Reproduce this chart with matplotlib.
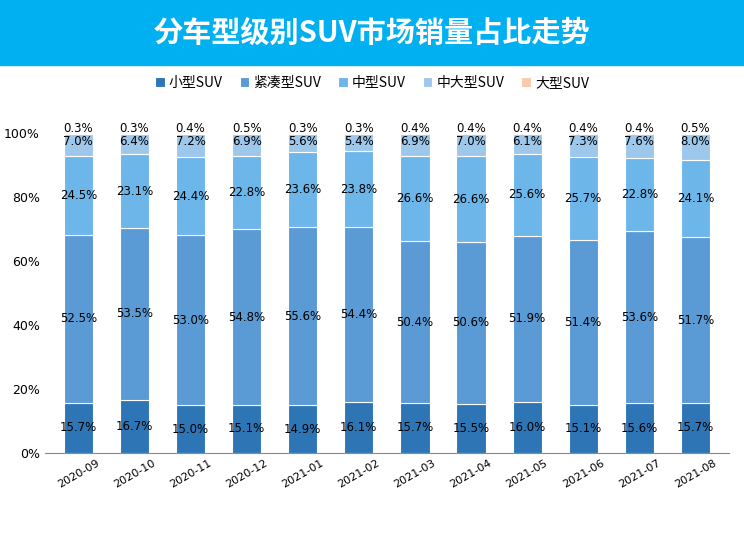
import numpy as np
import matplotlib.pyplot as plt
from matplotlib.patches import Rectangle

plt.rcParams['font.family'] = ['Noto Sans CJK SC', 'Noto Sans CJK JP', 'Noto Sans CJK TC', 'DejaVu Sans']

months = ['2020-09', '2020-10', '2020-11', '2020-12', '2021-01', '2021-02',
          '2021-03', '2021-04', '2021-05', '2021-06', '2021-07', '2021-08']
series_names = ['小型SUV', '紧凑型SUV', '中型SUV', '中大型SUV', '大型SUV']
small = [15.7, 16.7, 15.0, 15.1, 14.9, 16.1, 15.7, 15.5, 16.0, 15.1, 15.6, 15.7]
compact = [52.5, 53.5, 53.0, 54.8, 55.6, 54.4, 50.4, 50.6, 51.9, 51.4, 53.6, 51.7]
mid = [24.5, 23.1, 24.4, 22.8, 23.6, 23.8, 26.6, 26.6, 25.6, 25.7, 22.8, 24.1]
midlarge = [7.0, 6.4, 7.2, 6.9, 5.6, 5.4, 6.9, 7.0, 6.1, 7.3, 7.6, 8.0]
large = [0.3, 0.3, 0.4, 0.5, 0.3, 0.3, 0.4, 0.4, 0.4, 0.4, 0.4, 0.5]
colors = ['#2E75B6', '#5B9BD5', '#6DB6EA', '#9DC8EC', '#F8CBAD']

data = np.array([small, compact, mid, midlarge, large])
norm = data / data.sum(axis=0) * 100
x = np.arange(len(months))

fig = plt.figure(figsize=(7.44, 5.58), dpi=100)
fig.patches.append(Rectangle((0, 0.884), 1, 0.116, transform=fig.transFigure,
                             color='#00B0F0', zorder=0))
fig.text(0.5, 0.942, '分车型级别SUV市场销量占比走势', ha='center', va='center',
         color='white', fontsize=21, fontweight='bold')

ax = fig.add_axes([0.06, 0.188, 0.92, 0.574])
bottom = np.zeros(len(months))
for i, (name, c) in enumerate(zip(series_names, colors)):
    ax.bar(x, norm[i], 0.52, bottom=bottom, color=c, label=name,
           edgecolor='white', linewidth=0.8)
    for j in range(len(months)):
        if i == 4:
            y = 101.3
        elif i == 3:
            y = 97.2
        else:
            y = bottom[j] + norm[i][j] / 2
        ax.text(x[j], y, f'{data[i][j]:.1f}%', ha='center', va='center',
                fontsize=8.5, color='black', family='DejaVu Sans')
    bottom += norm[i]

ax.set_ylim(0, 100)
ax.set_xlim(-0.6, len(months) - 0.4)
ax.set_yticks(np.arange(0, 101, 20))
ax.set_yticklabels([f'{v}%' for v in range(0, 101, 20)], fontsize=9, family='DejaVu Sans')
ax.set_xticks(x)
ax.set_xticklabels(months, rotation=30, fontsize=8, family='DejaVu Sans')
for s in ['top', 'right', 'left']:
    ax.spines[s].set_visible(False)
ax.spines['bottom'].set_color('#888888')
ax.tick_params(axis='y', length=0)
ax.tick_params(axis='x', length=0)

fig.legend(loc='center', bbox_to_anchor=(0.5, 0.851), ncol=5, frameon=False,
           fontsize=10, handlelength=0.7, handleheight=0.7, columnspacing=1.2,
           handletextpad=0.3)

fig.savefig('out.png', dpi=100)
